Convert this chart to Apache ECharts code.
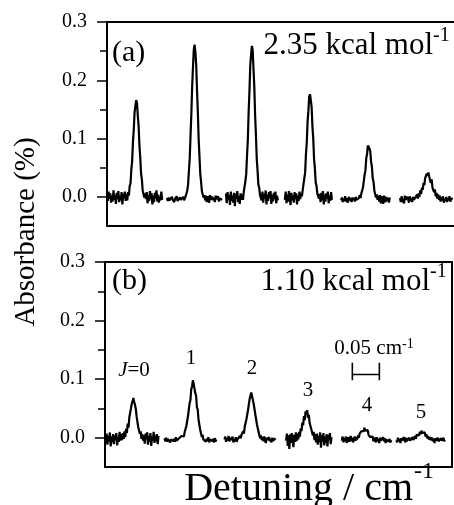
<!DOCTYPE html>
<html>
<head>
<meta charset="utf-8">
<title>Absorbance vs detuning</title>
<script src="https://cdn.jsdelivr.net/npm/echarts@6/dist/echarts.min.js"></script>
<style>
html, body {
	margin: 0;
	padding: 0;
	background: #fff;
	overflow: hidden;
}
#chart {
	width: 454px;
	height: 505px;
}
</style>
</head>
<body>
<div id="chart"></div>
<script type="text/javascript">
    // sample spacing of each scan (cm-1)
    var STEP = 0.0015;

    // panel (a): 2.35 kcal mol-1, six scans, start detuning of each one
    var aStarts = [0.000, 0.111, 0.220, 0.329, 0.433, 0.542];
    var a1 = [0.004, -0.007, 0.009, -0.003, 0.006, -0.010, 0.002, -0.008, 0.011, -0.005, 0.003, -0.012,
        0.007, -0.004, 0.010, -0.009, 0.001, -0.006, 0.008, -0.013, 0.005, -0.002, 0.009, -0.007,
        0.005, -0.006, 0.008, 0.002, 0.019, 0.023, 0.047, 0.061, 0.094, 0.115, 0.145, 0.156, 0.166,
        0.161, 0.139, 0.121, 0.088, 0.068, 0.040, 0.030, 0.011, 0.012, -0.001, 0.006, -0.004,
        0.008, -0.011, 0.003, -0.007, 0.010, -0.004, 0.006, -0.013, 0.002, -0.009, 0.007, -0.003,
        0.011, -0.008, 0.004, -0.010, 0.001, -0.006, 0.009, -0.005];
    var a2 = [-0.002, -0.007, -0.001, -0.006, -0.003, -0.008, 0.000, -0.005, -0.002, -0.009, -0.003,
        -0.006, 0.001, -0.007, -0.004, -0.008, -0.001, -0.005, -0.003, -0.007, 0.000, -0.006,
        -0.003, 0.001, 0.004, 0.011, 0.022, 0.044, 0.066, 0.105, 0.142, 0.189, 0.222, 0.252, 0.261,
        0.248, 0.226, 0.183, 0.146, 0.100, 0.070, 0.040, 0.026, 0.010, 0.008, -0.001, 0.003,
        -0.006, 0.002, -0.009, 0.001, -0.004, -0.010, 0.003, -0.005, -0.008, 0.000, -0.006,
        -0.002, -0.009, 0.002, -0.004, -0.007, 0.001, -0.008, -0.003, -0.006, 0.000, -0.005];
    var a3 = [0.006, -0.011, 0.008, -0.004, 0.003, -0.014, 0.009, -0.007, 0.002, -0.010,
        0.007, -0.016, 0.005, -0.003, 0.010, -0.009, 0.001, -0.012, 0.006, -0.005,
        0.004, -0.005, 0.009, 0.010, 0.027, 0.039, 0.071, 0.098, 0.146, 0.181, 0.226, 0.244, 0.259,
        0.251, 0.219, 0.188, 0.139, 0.106, 0.065, 0.045, 0.021, 0.016, 0.003, 0.006, -0.006,
        0.009, -0.010, 0.005, -0.003, 0.011, -0.013, 0.004, -0.007, 0.008, -0.002,
        0.010, -0.012, 0.003, -0.008, 0.007, -0.004, 0.009, -0.011, 0.002, -0.006];
    var a4 = [-0.005, 0.009, -0.011, 0.004, -0.008, 0.010, -0.002, -0.014, 0.007, -0.006,
        0.003, -0.010, 0.008, -0.004, 0.006, -0.013, 0.002, -0.007, 0.009,
        -0.004, 0.006, 0.001, 0.012, 0.013, 0.032, 0.042, 0.073, 0.093, 0.129, 0.147, 0.172, 0.176,
        0.166, 0.154, 0.121, 0.100, 0.065, 0.049, 0.025, 0.019, 0.006, 0.008, -0.003, 0.005,
        -0.009, 0.007, -0.006, 0.010, -0.013, 0.004, -0.008, 0.006, -0.003, 0.009, -0.011,
        0.002, -0.007, 0.008, -0.005];
    var a5 = [-0.006, -0.001, -0.009, -0.003, -0.007, 0.001, -0.008, -0.002, -0.010, -0.004, 0.000,
        -0.007, -0.003, -0.009, -0.001, -0.006, -0.002, -0.008, 0.000, -0.005, -0.003, -0.007,
        -0.002, 0.003, -0.002, 0.006, 0.004, 0.016, 0.019, 0.038, 0.045, 0.066, 0.073, 0.088, 0.089,
        0.083, 0.078, 0.060, 0.052, 0.032, 0.026, 0.011, 0.010, -0.001, 0.004, -0.005, 0.002,
        -0.008, 0.003, -0.011, 0.001, -0.006, -0.012, 0.002, -0.004, -0.009, 0.000, -0.007,
        -0.002, -0.010, -0.001];
    var a6 = [-0.002, -0.009, 0.001, -0.006, -0.003, -0.011, 0.002, -0.005, -0.008, 0.000,
        -0.004, -0.010, 0.001, -0.007, -0.002, -0.009, 0.000, -0.005, -0.008, -0.001,
        -0.004, 0.004, -0.003, 0.006, 0.000, 0.011, 0.005, 0.016, 0.012, 0.024, 0.020, 0.032, 0.029,
        0.040, 0.036, 0.042, 0.035, 0.037, 0.024, 0.030, 0.016, 0.019, 0.008, 0.013, 0.001, 0.007,
        -0.003, 0.004, -0.005,
        0.002, -0.008, -0.001, -0.006, 0.001, -0.010, -0.003, -0.007, 0.000, -0.009, -0.002,
        -0.006, 0.001, -0.008, -0.004, -0.007, -0.002];

    // panel (b): 1.10 kcal mol-1
    var bStarts = [0.000, 0.110, 0.221, 0.335, 0.438, 0.539];
    var b1 = [0.005, -0.009, 0.007, -0.012, 0.003, -0.006, 0.009, -0.015, 0.002, -0.008,
        0.006, -0.011, 0.004, -0.004, 0.008, -0.013, 0.001, -0.007, 0.010, -0.005,
        0.006, -0.004, 0.008, -0.002, 0.011, 0.001, 0.015, 0.008, 0.024, 0.017, 0.035, 0.034, 0.050,
        0.058, 0.062, 0.068, 0.061, 0.056, 0.049, 0.036, 0.033, 0.018, 0.020, 0.007, 0.011, -0.002,
        0.006, -0.005, 0.004,
        -0.010, 0.007, -0.003, 0.009, -0.012, 0.003, -0.007, 0.008, -0.014, 0.002, -0.005,
        0.010, -0.009, 0.004, -0.006, 0.006, -0.011, 0.003];
    var b2 = [-0.001, -0.006, 0.000, -0.007, -0.002, -0.005, 0.001, -0.008, -0.003, -0.004,
        0.000, -0.006, -0.002, -0.007, 0.001, -0.005, -0.003, -0.008, -0.001, -0.004,
        -0.002, 0.003, 0.001, 0.006, 0.002, 0.010, 0.008, 0.020, 0.020, 0.037, 0.040, 0.059, 0.064,
        0.083, 0.087, 0.098, 0.092, 0.091, 0.076, 0.072, 0.052, 0.048, 0.031, 0.028, 0.014, 0.013,
        0.001, 0.005, -0.003,
        -0.005, 0.000, -0.007, -0.002, -0.006, 0.001, -0.008, -0.003, -0.005, 0.000, -0.006,
        -0.002, -0.008, -0.001, -0.004, -0.007];
    var b3 = [-0.003, 0.002, -0.007, -0.001, -0.005, 0.003, -0.006, -0.009, 0.000,
        -0.004, 0.002, -0.008, -0.002, -0.006, 0.001, -0.007, -0.003, 0.000,
        -0.004, 0.003, -0.001, 0.005, 0.003, 0.011, 0.007, 0.019, 0.017, 0.031, 0.030, 0.047, 0.050,
        0.066, 0.068, 0.077, 0.071, 0.072, 0.058, 0.056, 0.040, 0.037, 0.023, 0.021, 0.010, 0.008,
        -0.001, 0.004, -0.004,
        0.001, -0.006, 0.002, -0.005, -0.009, 0.000, -0.004, -0.007, 0.001, -0.006, -0.002,
        -0.008, 0.000, -0.005, -0.003, -0.007, -0.001];
    var b4 = [-0.005, 0.007, -0.014, 0.004, -0.019, 0.006, -0.009, 0.008, -0.003, -0.016, 0.005,
        -0.007, 0.009,
        -0.006, 0.007, -0.003, 0.010, 0.002, 0.016, 0.011, 0.026, 0.021, 0.037, 0.030, 0.045, 0.040,
        0.047, 0.034, 0.039, 0.025, 0.028, 0.015, 0.018, 0.004, 0.010, -0.004, 0.006, -0.008,
        0.007, -0.012, 0.003, -0.008, 0.009, -0.017, 0.004, -0.006, 0.008, -0.013, 0.002,
        -0.009, 0.006, -0.015, 0.005, -0.004, 0.008, -0.011, 0.001];
    var b5 = [-0.005, 0.002, -0.008, -0.001, -0.006, 0.002, -0.009, -0.003, 0.001, -0.007,
        -0.002, 0.003, -0.006, 0.000, -0.008, -0.002, 0.002, -0.005,
        0.001, -0.003, 0.004, 0.000, 0.007, 0.004, 0.011, 0.008, 0.014, 0.011, 0.017, 0.012, 0.015,
        0.009, 0.013, 0.005, 0.008, 0.001, 0.004, -0.002, 0.002,
        -0.006, 0.000, -0.004, -0.008, 0.001, -0.006, -0.002, -0.009, 0.000, -0.005, -0.003,
        -0.008, 0.001, -0.006, -0.001, -0.009, -0.003, -0.005, 0.000, -0.007, -0.002, -0.008, -0.004];
    var b6 = [-0.004, -0.008, 0.000, -0.006, -0.002, -0.009, -0.001, -0.005, -0.007, 0.001,
        -0.004, -0.008, 0.000, -0.006, -0.003, -0.009, 0.000, -0.005, -0.002, -0.007, 0.001, -0.004,
        -0.001, 0.003, -0.002, 0.005, 0.002, 0.008, 0.004, 0.010, 0.006, 0.012, 0.008, 0.011,
        0.005, 0.009, 0.002, 0.006, -0.001, 0.003, -0.003, 0.001, -0.004,
        -0.007, 0.000, -0.006, -0.002, -0.009, -0.001, -0.005, -0.008, 0.000, -0.006, -0.003,
        -0.009, -0.001, -0.005, -0.007, 0.000, -0.006, -0.004];

    // peak labels in panel (b) and the 0.05 cm-1 scale bar
    var peakLabels = ['0', '1', '2', '3', '4', '5'];
    var scaleBarX = [0.4575, 0.5075];
    var scaleBarY = 0.108;
    var scaleCapY = [0.098, 0.128];

    var yMajor = [0, 0.1, 0.2, 0.3];
    var yMinor = [0.05, 0.15, 0.25];

    var serif = "'Liberation Serif', 'Times New Roman', serif";

    function seg(start, vals) {
        return vals.map(function (v, i) {
            return [+(start + i * STEP).toFixed(4), v];
        });
    }

    var aSegs = [a1, a2, a3, a4, a5, a6];
    var bSegs = [b1, b2, b3, b4, b5, b6];

    var series = [];
    aSegs.forEach(function (vals, k) {
        series.push({
            type: 'line', xAxisIndex: 0, yAxisIndex: 0, showSymbol: false, silent: true,
            lineStyle: {color: '#000', width: 2.2}, data: seg(aStarts[k], vals)
        });
    });
    bSegs.forEach(function (vals, k) {
        series.push({
            type: 'line', xAxisIndex: 2, yAxisIndex: 2, showSymbol: false, silent: true,
            lineStyle: {color: '#000', width: 2.2}, data: seg(bStarts[k], vals)
        });
    });
    // scale bar and its end caps
    series.push({
        type: 'line', xAxisIndex: 2, yAxisIndex: 2, showSymbol: false, silent: true,
        lineStyle: {color: '#000', width: 1.6},
        data: [[scaleBarX[0], scaleBarY], [scaleBarX[1], scaleBarY]]
    });
    scaleBarX.forEach(function (x) {
        series.push({
            type: 'line', xAxisIndex: 2, yAxisIndex: 2, showSymbol: false, silent: true,
            lineStyle: {color: '#000', width: 1.6},
            data: [[x, scaleCapY[0]], [x, scaleCapY[1]]]
        });
    });

    // 0.64 cm-1 spans 346 px in both panels; box (a) runs well off the right edge
    var PX = 0.64 / 346;
    var boxA = {left: 107, top: 22, width: 380, height: 204};
    var boxB = {left: 105, top: 262, width: 347, height: 205};
    var frac = 0.3 / 0.35;
    var frame = {show: true, onZero: false, lineStyle: {color: '#000', width: 2}};

    function mainY(grid, line) {
        return {
            type: 'value', gridIndex: grid, min: -0.05, max: 0.3,
            axisLine: line ? frame : {show: false}, splitLine: {show: false},
            axisLabel: {show: false},
            axisTick: {show: true, length: 7, customValues: yMinor, lineStyle: {color: '#000', width: 1.5}}
        };
    }
    function majorY(grid) {
        return {
            type: 'value', gridIndex: grid, min: 0, max: 0.3, interval: 0.1,
            axisLine: {show: false}, splitLine: {show: false},
            axisTick: {show: true, length: 10, lineStyle: {color: '#000', width: 1.5}},
            axisLabel: {
                margin: 20, color: '#000', fontFamily: serif, fontSize: 20,
                formatter: function (v) { return v.toFixed(1); }
            }
        };
    }
    // x axes carry no ticks; for panel (a) their lines draw the top and bottom of the frame
    function frameX(grid, w, pos, line) {
        return {
            type: 'value', gridIndex: grid, min: 0, max: w * PX, position: pos,
            axisLine: line ? frame : {show: false},
            axisTick: {show: false}, axisLabel: {show: false}, splitLine: {show: false}
        };
    }

    function txt(x, y, text, size, align) {
        return {
            type: 'text', silent: true, z: 10,
            style: {
                x: x, y: y, text: text, fill: '#000',
                font: size + 'px ' + serif,
                align: align, verticalAlign: 'middle',
                textAlign: align, textVerticalAlign: 'middle'
            }
        };
    }

    var peakX = [134, 191, 252, 308, 367, 421];
    var peakY = [370, 358, 368, 390, 405, 412];
    var graphics = [
        txt(112, 53, '(a)', 30, 'left'),
        txt(433, 46, '2.35 kcal mol', 31, 'right'),
        txt(433, 36, '-1', 20, 'left'),
        txt(112, 281, '(b)', 30, 'left'),
        txt(430, 282, '1.10 kcal mol', 31, 'right'),
        txt(430, 272, '-1', 20, 'left'),
        txt(402, 348, '0.05 cm', 21, 'right'),
        txt(402, 344, '-1', 14, 'left'),
        txt(413, 489, 'Detuning / cm', 40, 'right'),
        txt(414, 472, '-1', 24, 'left'),
        {
            type: 'text', x: 26, y: 232, rotation: Math.PI / 2, silent: true,
            style: {
                x: 0, y: 0, text: 'Absorbance (%)', fill: '#000', font: '29px ' + serif,
                align: 'center', verticalAlign: 'middle', textAlign: 'center', textVerticalAlign: 'middle'
            }
        }
    ];
    peakLabels.forEach(function (lab, i) {
        if (i === 0) {
            graphics.push({
                type: 'text', silent: true, z: 10,
                style: {
                    x: peakX[i], y: peakY[i], text: '{i|J}=' + lab, fill: '#000', font: '21px ' + serif,
                    align: 'center', verticalAlign: 'middle', textAlign: 'center', textVerticalAlign: 'middle',
                    rich: {i: {fontStyle: 'italic', fontFamily: serif, fontSize: 21, fill: '#000', color: '#000'}}
                }
            });
        } else {
            graphics.push(txt(peakX[i], peakY[i], lab, 21, 'center'));
        }
    });

    function grid(box, h, border) {
        var g = {left: box.left, top: box.top, width: box.width, height: h,
            outerBoundsMode: 'none', containLabel: false};
        if (border) {
            g.show = true;
            g.borderColor = '#000';
            g.borderWidth = 2;
            g.backgroundColor = 'transparent';
        }
        return g;
    }

    var chart = echarts.init(document.getElementById('chart'), null, {renderer: 'canvas'});
    var option = {
        backgroundColor: '#fff',
        animation: false,
        grid: [
            grid(boxA, boxA.height, false),
            grid(boxA, boxA.height * frac, false),
            grid(boxB, boxB.height, true),
            grid(boxB, boxB.height * frac, false)
        ],
        xAxis: [
            frameX(0, boxA.width, 'bottom', true),
            frameX(1, boxA.width, 'top', true),
            frameX(2, boxB.width, 'bottom', false),
            frameX(3, boxB.width, 'bottom', false)
        ],
        yAxis: [mainY(0, true), majorY(1), mainY(2, false), majorY(3)],
        series: series,
        graphic: graphics
    };
    chart.setOption(option);
</script>
</body>
</html>
